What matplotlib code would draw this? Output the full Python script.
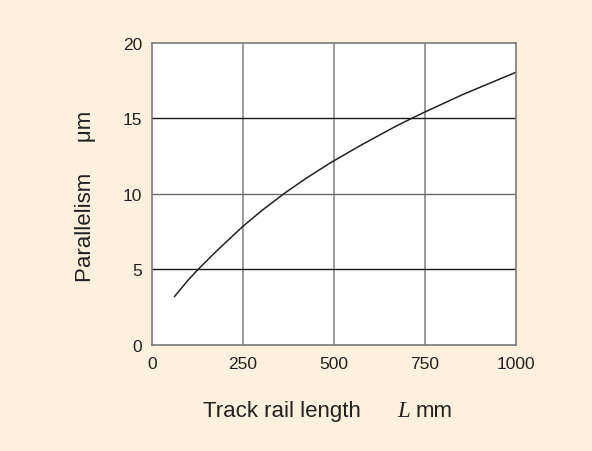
import numpy as np
import matplotlib
matplotlib.use("Agg")
import matplotlib.pyplot as plt

# track rail length L (mm) vs parallelism (um)
rail_length = [62, 100, 127, 177, 250, 305, 365, 425, 490, 580, 672, 718, 750, 856, 1000]
parallelism = [3.2, 4.3, 5.0, 6.2, 7.85, 8.95, 10.05, 11.05, 12.05, 13.3, 14.5, 15.05, 15.42, 16.6, 18.05]
x_ticks = [0, 250, 500, 750, 1000]
y_ticks = [0, 5, 10, 15, 20]

plt.rcParams['font.family'] = ['Liberation Sans', 'DejaVu Sans']

bg = '#fdf0dc'
ink = '#222222'
fig = plt.figure(figsize=(5.92, 4.52), dpi=100, facecolor=bg)
ax = fig.add_axes([0.2568, 0.2352, 0.6143, 0.6675])
ax.set_facecolor('white')

ax.plot(rail_length, parallelism, color=ink, lw=1.1, solid_joinstyle='round')

ax.set_xlim(0, 1000)
ax.set_ylim(0, 20)
ax.set_xticks(x_ticks)
ax.set_yticks(y_ticks)

# vertical grid gray, horizontal grid mostly black
for xv in x_ticks[1:-1]:
    ax.axvline(xv, color='#8a8a8a', lw=1.2, zorder=0)
for yv in y_ticks[1:-1]:
    c = '#6a6a6a' if yv == 10 else '#1a1a1a'
    ax.axhline(yv, color=c, lw=1.0, zorder=0)

for s in ax.spines.values():
    s.set_color('#7a7a7a')
    s.set_linewidth(1.2)

ax.tick_params(length=0, labelsize=12.5, colors=ink)
ax.tick_params(axis='x', pad=8)
ax.tick_params(axis='y', pad=7)

# axis titles
fig.text(86 / 592, 1 - 196 / 452, 'Parallelism     μm', rotation=90,
         ha='center', va='center', fontsize=16, color=ink)
fig.text(203 / 592, 1 - 417 / 452, 'Track rail length', fontsize=16,
         color=ink, va='baseline')
fig.text(397 / 592, 1 - 417 / 452, 'L', fontsize=16.5, style='italic',
         family=['Liberation Serif', 'DejaVu Serif'], color=ink, va='baseline')
fig.text(416 / 592, 1 - 417 / 452, 'mm', fontsize=16, color=ink, va='baseline')

fig.savefig('out.png', dpi=100, facecolor=bg)
